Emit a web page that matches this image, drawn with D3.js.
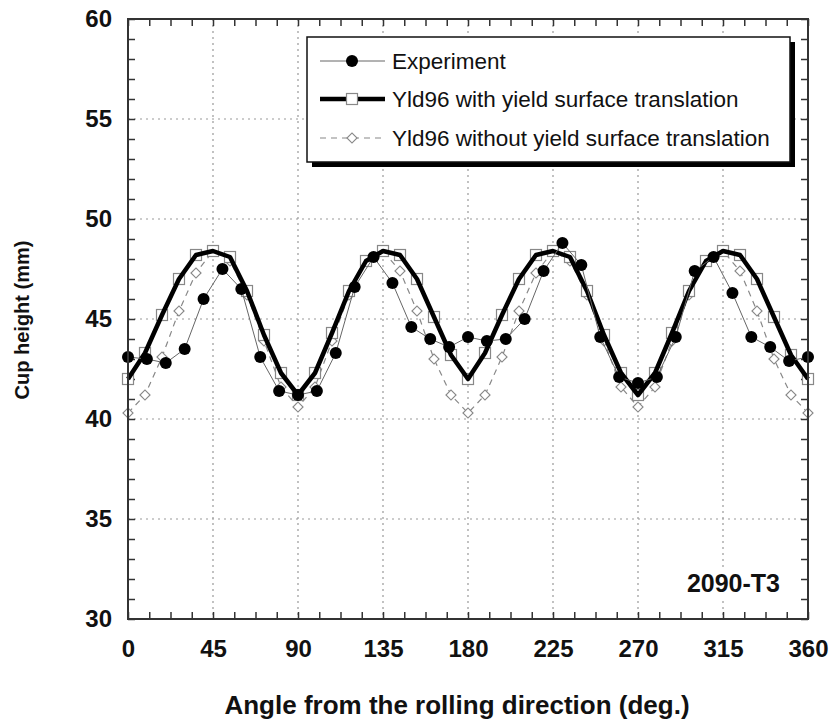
<!DOCTYPE html>
<html>
<head>
<meta charset="utf-8">
<script src="https://cdn.jsdelivr.net/npm/d3@7/dist/d3.min.js"></script>
<style>
  html, body { margin: 0; padding: 0; background: #fff; }
  svg { display: block; font-family: "Liberation Sans", Arial, sans-serif; }
</style>
</head>
<body>
<svg id="chart" width="829" height="722"></svg>
<script>
// ---- Data ----
const expAngles = [0,10,20,30,40,50,60,70,80,90,100,110,120,130,140,150,160,170,180,190,200,210,220,230,240,250,260,270,280,290,300,310,320,330,340,350,360];
const expValues = [43.1,43.0,42.8,43.5,46.0,47.5,46.5,43.1,41.4,41.2,41.4,43.3,46.6,48.1,46.8,44.6,44.0,43.6,44.1,43.9,44.0,45.0,47.4,48.8,47.7,44.1,42.1,41.8,42.1,44.1,47.4,48.1,46.3,44.1,43.6,42.9,43.1];

const modelAngles = [0,9,18,27,36,45,54,63,72,81,90,99,108,117,126,135,144,153,162,171,180,189,198,207,216,225,234,243,252,261,270,279,288,297,306,315,324,333,342,351,360];
const withTransValues = [42.0,43.3,45.2,47.0,48.2,48.4,48.1,46.4,44.2,42.3,41.2,42.3,44.3,46.4,47.9,48.4,48.2,47.0,45.1,43.2,42.0,
                         43.3,45.2,47.0,48.2,48.4,48.1,46.4,44.2,42.3,41.2,42.3,44.3,46.4,47.9,48.4,48.2,47.0,45.1,43.2,42.0];
const withoutTransValues = [40.3,41.2,43.1,45.4,47.3,48.4,47.9,46.2,43.9,41.6,40.6,41.6,43.9,46.2,47.9,48.4,47.4,45.4,43.0,41.2,40.3,
                            41.2,43.1,45.4,47.3,48.4,47.9,46.2,43.9,41.6,40.6,41.6,43.9,46.2,47.9,48.4,47.4,45.4,43.0,41.2,40.3];

const xTicks = [0,45,90,135,180,225,270,315,360];
const xMinorTicks = [0,11.25,22.5,33.75,45,56.25,67.5,78.75,90,101.25,112.5,123.75,135,146.25,157.5,168.75,180,191.25,202.5,213.75,225,236.25,247.5,258.75,270,281.25,292.5,303.75,315,326.25,337.5,348.75,360];
const yTicks = [30,35,40,45,50,55,60];
const yMinorTicks = [30,31,32,33,34,35,36,37,38,39,40,41,42,43,44,45,46,47,48,49,50,51,52,53,54,55,56,57,58,59,60];
const seriesNames = ["Experiment","Yld96 with yield surface translation","Yld96 without yield surface translation"];
const xTitle = "Angle from the rolling direction (deg.)";
const yTitle = "Cup height (mm)";
const annotation = "2090-T3";

// ---- Layout ----
const L = 128, R = 808, T = 19, B = 619;
const svg = d3.select("#chart");
const x = d3.scaleLinear().domain([0,360]).range([L,R]);
const y = d3.scaleLinear().domain([30,60]).range([B,T]);

const axisColor = "#333";
const tickLen = 7;
const FONT = "Liberation Sans, Arial, sans-serif";

// Grid (dotted)
const grid = svg.append("g");
grid.selectAll("line.gx").data(xTicks.filter(d => d>0 && d<360)).enter().append("line")
  .attr("x1", d=>x(d)).attr("x2", d=>x(d)).attr("y1", T).attr("y2", B)
  .attr("stroke", "#999").attr("stroke-width", 1.2).attr("stroke-dasharray", "2,4");
grid.selectAll("line.gy").data(yTicks.filter(d => d>30 && d<60)).enter().append("line")
  .attr("y1", d=>y(d)).attr("y2", d=>y(d)).attr("x1", L).attr("x2", R)
  .attr("stroke", "#999").attr("stroke-width", 1.2).attr("stroke-dasharray", "2,4");

// Axes with inward ticks
function styleAxis(g) {
  g.select(".domain").remove();
  g.selectAll(".tick line").attr("stroke", axisColor).attr("stroke-width", 1.5);
}
svg.append("g").attr("transform", `translate(0,${B})`)
  .call(d3.axisBottom(x).tickValues(xMinorTicks).tickSize(-tickLen).tickFormat(""))
  .call(styleAxis);
svg.append("g").attr("transform", `translate(0,${T})`)
  .call(d3.axisTop(x).tickValues(xMinorTicks).tickSize(-tickLen).tickFormat(""))
  .call(styleAxis);
svg.append("g").attr("transform", `translate(${L},0)`)
  .call(d3.axisLeft(y).tickValues(yMinorTicks).tickSize(-tickLen).tickFormat(""))
  .call(styleAxis);
svg.append("g").attr("transform", `translate(${R},0)`)
  .call(d3.axisRight(y).tickValues(yMinorTicks).tickSize(-tickLen).tickFormat(""))
  .call(styleAxis);

// Tick labels
const xLab = svg.append("g").attr("transform", `translate(0,${B})`)
  .call(d3.axisBottom(x).tickValues(xTicks).tickSize(0).tickPadding(21).tickFormat(d3.format("d")));
xLab.select(".domain").remove();
xLab.selectAll("text").attr("font-size", 24).attr("font-weight", "bold").attr("fill", "#111")
  .attr("font-family", FONT);
const yLab = svg.append("g").attr("transform", `translate(${L},0)`)
  .call(d3.axisLeft(y).tickValues(yTicks).tickSize(0).tickPadding(16).tickFormat(d3.format("d")));
yLab.select(".domain").remove();
yLab.selectAll("text").attr("font-size", 24).attr("font-weight", "bold").attr("fill", "#111")
  .attr("font-family", FONT);

// Series
const plot = svg.append("g");
const lineGen = d3.line();

// Without translation (dashed grey + diamonds)
const ptsWo = modelAngles.map((a,i)=>[x(a), y(withoutTransValues[i])]);
plot.append("path").attr("d", lineGen(ptsWo)).attr("fill","none")
  .attr("stroke","#888").attr("stroke-width",1.2).attr("stroke-dasharray","6,5");
const diaPath = d3.symbol().type(d3.symbolSquare).size(50)();
plot.selectAll("path.dia").data(ptsWo).enter().append("path")
  .attr("d", diaPath)
  .attr("transform", d=>`translate(${d[0]},${d[1]}) rotate(45)`)
  .attr("fill","#fff").attr("stroke","#888").attr("stroke-width",1.2);

// With translation (thick black + squares)
const ptsW = modelAngles.map((a,i)=>[x(a), y(withTransValues[i])]);
plot.selectAll("rect.sq").data(ptsW).enter().append("rect")
  .attr("x", d=>d[0]-5.5).attr("y", d=>d[1]-5.5).attr("width",11).attr("height",11)
  .attr("fill","#fff").attr("stroke","#888").attr("stroke-width",1.2);
plot.append("path").attr("d", lineGen(ptsW)).attr("fill","none")
  .attr("stroke","#000").attr("stroke-width",4.5).attr("stroke-linejoin","round");

// Experiment (thin grey line + filled circles)
const ptsE = expAngles.map((a,i)=>[x(a), y(expValues[i])]);
plot.append("path").attr("d", lineGen(ptsE)).attr("fill","none")
  .attr("stroke","#666").attr("stroke-width",1);
plot.selectAll("circle.e").data(ptsE).enter().append("circle")
  .attr("cx", d=>d[0]).attr("cy", d=>d[1]).attr("r", 6).attr("fill","#000");

// Frame
svg.append("rect").attr("x", L).attr("y", T).attr("width", R-L).attr("height", B-T)
  .attr("fill", "none").attr("stroke", axisColor).attr("stroke-width", 2);

// Legend
const lg = svg.append("g");
const lx = 307, ly = 37, lw = 483, lh = 125;
lg.append("rect").attr("x", lx+5).attr("y", ly+5).attr("width", lw).attr("height", lh).attr("fill","#000");
lg.append("rect").attr("x", lx).attr("y", ly).attr("width", lw).attr("height", lh)
  .attr("fill","#fff").attr("stroke","#111").attr("stroke-width",1.5);
const rowsY = [61, 99, 138];
const sx1 = 320, sx2 = 385, sm = 352;
// row 1
lg.append("line").attr("x1",sx1).attr("x2",sx2).attr("y1",rowsY[0]).attr("y2",rowsY[0]).attr("stroke","#666").attr("stroke-width",1);
lg.append("circle").attr("cx",sm).attr("cy",rowsY[0]).attr("r",6).attr("fill","#000");
// row 2
lg.append("line").attr("x1",sx1).attr("x2",sx2).attr("y1",rowsY[1]).attr("y2",rowsY[1]).attr("stroke","#000").attr("stroke-width",4.5);
lg.append("rect").attr("x",sm-5.5).attr("y",rowsY[1]-5.5).attr("width",11).attr("height",11).attr("fill","#fff").attr("stroke","#888").attr("stroke-width",1.2);
// row 3
lg.append("line").attr("x1",sx1).attr("x2",sx2).attr("y1",rowsY[2]).attr("y2",rowsY[2]).attr("stroke","#888").attr("stroke-width",1.2).attr("stroke-dasharray","6,5");
lg.append("path").attr("d", diaPath)
  .attr("transform", `translate(${sm},${rowsY[2]}) rotate(45)`)
  .attr("fill","#fff").attr("stroke","#888").attr("stroke-width",1.2);
lg.selectAll("text").data(seriesNames).enter().append("text")
  .attr("x", 392).attr("y", (d,i)=>rowsY[i]).attr("dy","0.35em")
  .attr("font-size", 22.5).attr("fill","#111").text(d=>d);

// Annotation with white background
const ann = svg.append("g");
const annText = ann.append("text").attr("x", 780).attr("y", 592).attr("text-anchor","end")
  .attr("font-size", 25).attr("font-weight","bold").attr("fill","#111").text(annotation);
const bb = annText.node().getBBox();
ann.insert("rect", "text").attr("x", bb.x - 3).attr("y", bb.y).attr("width", bb.width + 6).attr("height", bb.height)
  .attr("fill", "#fff");

// Axis titles
svg.append("text").attr("x", 457).attr("y", 714).attr("text-anchor","middle")
  .attr("font-size", 26).attr("font-weight","bold").attr("fill","#111").text(xTitle);
svg.append("text").attr("transform","translate(29,320) rotate(-90)").attr("text-anchor","middle")
  .attr("font-size", 20).attr("font-weight","bold").attr("fill","#111").text(yTitle);
</script>
</body>
</html>
